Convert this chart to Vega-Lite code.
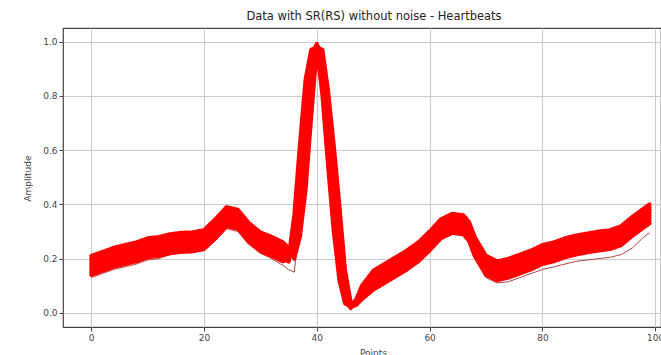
{
  "$schema": "https://vega.github.io/schema/vega-lite/v6.json",
  "autosize": "none",
  "width": 598,
  "height": 299,
  "padding": {"left": 63, "top": 28, "right": 0, "bottom": 28},
  "background": "white",
  "title": {"text": "Data with SR(RS) without noise - Heartbeats", "font": "DejaVu Sans", "fontSize": 11.5, "fontWeight": "normal", "color": "#222", "anchor": "middle", "dx": 12, "offset": 6},
  "config": {
    "view": {"stroke": "#444", "strokeWidth": 1.2},
    "axis": {"domain": false, "grid": true, "gridColor": "#cacaca", "gridWidth": 1, "tickColor": "#444", "tickSize": 4, "labelFont": "DejaVu Sans", "labelFontSize": 9, "labelColor": "#444", "labelPadding": 2, "titleFont": "DejaVu Sans", "titleFontSize": 9, "titleFontWeight": "normal", "titleColor": "#444"}
  },
  "data": {"values": [
    {"x":0,"a":0.14,"b":0.15,"c":0.16,"d":0.17,"e":0.18,"f":0.19,"g":0.2,"h":0.21,"o1":0.13,"o2":0.19},
    {"x":2,"a":0.155,"b":0.165,"c":0.175,"d":0.185,"e":0.195,"f":0.205,"g":0.215,"h":0.225,"o1":0.145,"o2":0.2},
    {"x":4,"a":0.17,"b":0.18,"c":0.19,"d":0.2,"e":0.21,"f":0.22,"g":0.23,"h":0.24,"o1":0.16,"o2":0.215},
    {"x":6,"a":0.18,"b":0.19,"c":0.2,"d":0.21,"e":0.22,"f":0.23,"g":0.24,"h":0.25,"o1":0.17,"o2":0.225},
    {"x":8,"a":0.19,"b":0.2,"c":0.21,"d":0.22,"e":0.23,"f":0.24,"g":0.25,"h":0.26,"o1":0.18,"o2":0.23},
    {"x":10,"a":0.205,"b":0.215,"c":0.225,"d":0.235,"e":0.245,"f":0.255,"g":0.265,"h":0.275,"o1":0.195,"o2":0.245},
    {"x":12,"a":0.21,"b":0.22,"c":0.23,"d":0.24,"e":0.25,"f":0.26,"g":0.27,"h":0.28,"o1":0.2,"o2":0.25},
    {"x":14,"a":0.22,"b":0.23,"c":0.24,"d":0.25,"e":0.26,"f":0.27,"g":0.28,"h":0.29,"o1":0.215,"o2":0.26},
    {"x":16,"a":0.225,"b":0.235,"c":0.245,"d":0.255,"e":0.265,"f":0.275,"g":0.285,"h":0.295,"o1":0.22,"o2":0.265},
    {"x":18,"a":0.227,"b":0.237,"c":0.247,"d":0.257,"e":0.267,"f":0.277,"g":0.287,"h":0.297,"o1":0.222,"o2":0.27},
    {"x":20,"a":0.235,"b":0.245,"c":0.255,"d":0.265,"e":0.275,"f":0.285,"g":0.295,"h":0.305,"o1":0.23,"o2":0.29},
    {"x":22,"a":0.275,"b":0.285,"c":0.295,"d":0.305,"e":0.315,"f":0.325,"g":0.335,"h":0.345,"o1":0.265,"o2":0.345},
    {"x":24,"a":0.32,"b":0.33,"c":0.34,"d":0.35,"e":0.36,"f":0.37,"g":0.38,"h":0.39,"o1":0.31,"o2":0.36},
    {"x":26,"a":0.31,"b":0.32,"c":0.33,"d":0.34,"e":0.35,"f":0.36,"g":0.37,"h":0.38,"o1":0.3,"o2":0.33},
    {"x":28,"a":0.26,"b":0.27,"c":0.28,"d":0.29,"e":0.3,"f":0.31,"g":0.32,"h":0.33,"o1":0.255,"o2":0.285},
    {"x":30,"a":0.227,"b":0.237,"c":0.247,"d":0.257,"e":0.267,"f":0.277,"g":0.287,"h":0.297,"o1":0.22,"o2":0.26},
    {"x":32,"a":0.21,"b":0.22,"c":0.23,"d":0.24,"e":0.25,"f":0.26,"g":0.27,"h":0.28,"o1":0.2,"o2":0.245},
    {"x":34,"a":0.19,"b":0.2,"c":0.21,"d":0.22,"e":0.23,"f":0.24,"g":0.25,"h":0.26,"o1":0.175,"o2":0.225},
    {"x":35,"a":0.2,"b":0.19,"c":0.19,"d":0.2,"e":0.21,"f":0.22,"g":0.23,"h":0.24,"o1":0.16,"o2":0.215},
    {"x":36,"a":0.36,"b":0.32,"c":0.28,"d":0.25,"e":0.23,"f":0.22,"g":0.21,"h":0.2,"o1":0.15,"o2":0.22},
    {"x":37,"a":0.62,"b":0.56,"c":0.5,"d":0.45,"e":0.4,"f":0.36,"g":0.32,"h":0.28,"o1":0.33,"o2":0.4},
    {"x":38,"a":0.86,"b":0.8,"c":0.74,"d":0.68,"e":0.62,"f":0.56,"g":0.5,"h":0.45,"o1":0.6,"o2":0.66},
    {"x":39,"a":0.97,"b":0.95,"c":0.93,"d":0.9,"e":0.87,"f":0.83,"g":0.78,"h":0.72,"o1":0.86,"o2":0.88},
    {"x":40,"a":0.98,"b":0.985,"c":0.99,"d":0.99,"e":0.99,"f":0.985,"g":0.98,"h":0.975,"o1":0.97,"o2":0.98},
    {"x":41,"a":0.97,"b":0.95,"c":0.93,"d":0.91,"e":0.89,"f":0.86,"g":0.83,"h":0.8,"o1":0.88,"o2":0.9},
    {"x":42,"a":0.82,"b":0.78,"c":0.74,"d":0.7,"e":0.66,"f":0.62,"g":0.58,"h":0.54,"o1":0.68,"o2":0.7},
    {"x":43,"a":0.62,"b":0.57,"c":0.52,"d":0.47,"e":0.42,"f":0.38,"g":0.34,"h":0.3,"o1":0.46,"o2":0.48},
    {"x":44,"a":0.4,"b":0.35,"c":0.3,"d":0.26,"e":0.22,"f":0.18,"g":0.15,"h":0.12,"o1":0.24,"o2":0.26},
    {"x":45,"a":0.16,"b":0.13,"c":0.1,"d":0.08,"e":0.06,"f":0.05,"g":0.04,"h":0.035,"o1":0.07,"o2":0.08},
    {"x":46,"a":0.04,"b":0.03,"c":0.02,"d":0.02,"e":0.02,"f":0.02,"g":0.02,"h":0.025,"o1":0.01,"o2":0.02},
    {"x":47,"a":0.03,"b":0.035,"c":0.03,"d":0.035,"e":0.035,"f":0.04,"g":0.04,"h":0.05,"o1":0.03,"o2":0.04},
    {"x":48,"a":0.05,"b":0.06,"c":0.065,"d":0.07,"e":0.075,"f":0.08,"g":0.09,"h":0.1,"o1":0.07,"o2":0.08},
    {"x":50,"a":0.085,"b":0.095,"c":0.105,"d":0.115,"e":0.125,"f":0.135,"g":0.145,"h":0.155,"o1":0.08,"o2":0.12},
    {"x":52,"a":0.11,"b":0.12,"c":0.13,"d":0.14,"e":0.15,"f":0.16,"g":0.17,"h":0.18,"o1":0.105,"o2":0.145},
    {"x":54,"a":0.135,"b":0.145,"c":0.155,"d":0.165,"e":0.175,"f":0.185,"g":0.195,"h":0.205,"o1":0.13,"o2":0.17},
    {"x":56,"a":0.16,"b":0.17,"c":0.18,"d":0.19,"e":0.2,"f":0.21,"g":0.22,"h":0.23,"o1":0.155,"o2":0.195},
    {"x":58,"a":0.19,"b":0.2,"c":0.21,"d":0.22,"e":0.23,"f":0.24,"g":0.25,"h":0.26,"o1":0.185,"o2":0.225},
    {"x":60,"a":0.23,"b":0.24,"c":0.25,"d":0.26,"e":0.27,"f":0.28,"g":0.29,"h":0.3,"o1":0.225,"o2":0.265},
    {"x":62,"a":0.275,"b":0.285,"c":0.295,"d":0.305,"e":0.315,"f":0.325,"g":0.335,"h":0.345,"o1":0.27,"o2":0.31},
    {"x":64,"a":0.295,"b":0.305,"c":0.315,"d":0.325,"e":0.335,"f":0.345,"g":0.355,"h":0.365,"o1":0.29,"o2":0.33},
    {"x":66,"a":0.29,"b":0.3,"c":0.31,"d":0.32,"e":0.33,"f":0.34,"g":0.35,"h":0.36,"o1":0.285,"o2":0.325},
    {"x":67,"a":0.265,"b":0.275,"c":0.285,"d":0.295,"e":0.305,"f":0.315,"g":0.325,"h":0.335,"o1":0.26,"o2":0.3},
    {"x":68,"a":0.21,"b":0.22,"c":0.23,"d":0.24,"e":0.25,"f":0.26,"g":0.27,"h":0.28,"o1":0.205,"o2":0.245},
    {"x":70,"a":0.14,"b":0.15,"c":0.16,"d":0.17,"e":0.18,"f":0.19,"g":0.2,"h":0.21,"o1":0.13,"o2":0.175},
    {"x":72,"a":0.12,"b":0.13,"c":0.14,"d":0.15,"e":0.16,"f":0.17,"g":0.18,"h":0.19,"o1":0.11,"o2":0.155},
    {"x":74,"a":0.13,"b":0.14,"c":0.15,"d":0.16,"e":0.17,"f":0.18,"g":0.19,"h":0.2,"o1":0.115,"o2":0.16},
    {"x":76,"a":0.145,"b":0.155,"c":0.165,"d":0.175,"e":0.185,"f":0.195,"g":0.205,"h":0.215,"o1":0.13,"o2":0.175},
    {"x":78,"a":0.16,"b":0.17,"c":0.18,"d":0.19,"e":0.2,"f":0.21,"g":0.22,"h":0.23,"o1":0.145,"o2":0.19},
    {"x":80,"a":0.18,"b":0.19,"c":0.2,"d":0.21,"e":0.22,"f":0.23,"g":0.24,"h":0.25,"o1":0.16,"o2":0.21},
    {"x":82,"a":0.19,"b":0.2,"c":0.21,"d":0.22,"e":0.23,"f":0.24,"g":0.25,"h":0.26,"o1":0.17,"o2":0.215},
    {"x":84,"a":0.205,"b":0.215,"c":0.225,"d":0.235,"e":0.245,"f":0.255,"g":0.265,"h":0.275,"o1":0.18,"o2":0.225},
    {"x":86,"a":0.215,"b":0.225,"c":0.235,"d":0.245,"e":0.255,"f":0.265,"g":0.275,"h":0.285,"o1":0.19,"o2":0.235},
    {"x":88,"a":0.223,"b":0.233,"c":0.243,"d":0.253,"e":0.263,"f":0.273,"g":0.283,"h":0.293,"o1":0.195,"o2":0.245},
    {"x":90,"a":0.23,"b":0.24,"c":0.25,"d":0.26,"e":0.27,"f":0.28,"g":0.29,"h":0.3,"o1":0.2,"o2":0.25},
    {"x":92,"a":0.235,"b":0.245,"c":0.255,"d":0.265,"e":0.275,"f":0.285,"g":0.295,"h":0.305,"o1":0.205,"o2":0.255},
    {"x":94,"a":0.25,"b":0.26,"c":0.27,"d":0.28,"e":0.29,"f":0.3,"g":0.31,"h":0.32,"o1":0.215,"o2":0.265},
    {"x":96,"a":0.285,"b":0.295,"c":0.305,"d":0.315,"e":0.325,"f":0.335,"g":0.345,"h":0.355,"o1":0.24,"o2":0.29},
    {"x":98,"a":0.315,"b":0.325,"c":0.335,"d":0.345,"e":0.355,"f":0.365,"g":0.375,"h":0.385,"o1":0.28,"o2":0.33},
    {"x":99,"a":0.33,"b":0.34,"c":0.35,"d":0.36,"e":0.37,"f":0.38,"g":0.39,"h":0.4,"o1":0.295,"o2":0.345}
  ]},
  "encoding": {
    "x": {"field": "x", "type": "quantitative", "scale": {"domain": [-5, 101.03], "nice": false, "zero": false}, "axis": {"values": [0,20,40,60,80,100], "title": "Points", "titleX": 310, "titleY": 21, "titleBaseline": "top", "titleAnchor": null}},
    "y": {"field": "amp", "type": "quantitative", "scale": {"domain": [-0.052, 1.05], "nice": false, "zero": false}, "axis": {"values": [0,0.2,0.4,0.6,0.8,1.0], "format": ".1f", "title": "Amplitude", "titleX": -36, "titleY": 150, "titleAngle": -90, "titleBaseline": "middle", "titleAlign": "center"}},
    "detail": {"field": "beat", "type": "nominal"}
  },
  "layer": [
    {
      "transform": [{"fold": ["o1","o2"], "as": ["beat","amp"]}],
      "mark": {"type": "line", "color": "#b04545", "strokeWidth": 1, "strokeJoin": "round", "clip": true}
    },
    {
      "transform": [{"fold": ["a","b","c","d","e","f","g","h"], "as": ["beat","amp"]}],
      "mark": {"type": "line", "color": "#ff0000", "strokeWidth": 4, "strokeJoin": "round", "strokeCap": "round", "clip": true}
    }
  ]
}
